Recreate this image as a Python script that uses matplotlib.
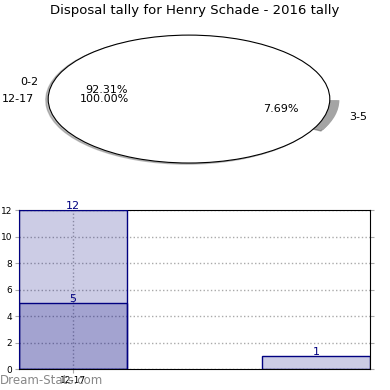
import matplotlib.pyplot as plt

# pie data: two rings drawn on top of each other
outer_labels = ["0-2", "3-5"]
outer_values = [12, 1]
inner_labels = ["12-17"]
inner_values = [5]

# bar data
bar_labels = ["0-2", "3-5", "12-17"]
bar_values = [12, 1, 5]

title = "Disposal tally for Henry Schade - 2016 tally"

fig = plt.figure(figsize=(3.9, 3.9), dpi=100)

# top: squashed pie
ax_pie = fig.add_axes([0.0333, 0.541, 0.9026, 0.41])
ax_pie.pie(outer_values, labels=outer_labels, autopct="%.2f%%",
           colors=["white", "#a4a4a4"], explode=[0, 0.07],
           shadow={"ox": -0.012, "oy": -0.012, "shade": 0.5},
           startangle=0, wedgeprops=dict(edgecolor="none"),
           textprops=dict(fontsize=8))
ax_pie.pie(inner_values, labels=inner_labels, autopct="%.2f%%",
           colors=["white"], startangle=0,
           wedgeprops=dict(edgecolor="black", linewidth=0.8),
           textprops=dict(fontsize=8))
ax_pie.set_aspect("auto")
ax_pie.set_xlim(-1.25, 1.25)
ax_pie.set_ylim(-1.25, 1.25)
fig.text(0.5, 0.972, title, ha="center", va="center", fontsize=9.5)

# bottom: overlapping bars
ax = fig.add_axes([0.0487, 0.0538, 0.9, 0.4077])
bar_x = {"0-2": 0, "3-5": 2.25, "12-17": 0}
for lab, val in zip(bar_labels, bar_values):
    x = bar_x[lab]
    ax.bar(x, val, width=1, color="navy", alpha=0.2, zorder=2)
    ax.bar(x, val, width=1, fill=False, edgecolor="navy", linewidth=1, zorder=3)
    ax.text(x, val - 0.1, str(val), ha="center", va="bottom",
            color="navy", fontsize=8, zorder=4)

ax.set_xlim(-0.5, 2.75)
ax.set_ylim(0, 12)
ax.set_yticks(range(0, 13, 2))
ax.set_xticks([0])
ax.set_xticklabels(["12-17"])
ax.tick_params(labelsize=6.5, length=3, color="#aaaaaa", right=True, pad=2)
ax.grid(True, linestyle=":", color="#aaaaaa", linewidth=1, zorder=0)
ax.set_axisbelow(True)
ax.set_xlabel("Frequency", fontsize=8, labelpad=6)
ax.set_ylabel("Total Annual Tally", fontsize=8, labelpad=8)

fig.text(0.0, 0.025, "Dream-Stats.com", color="#888888", fontsize=8.5,
         ha="left", va="center")

fig.savefig("out.png", dpi=100)
